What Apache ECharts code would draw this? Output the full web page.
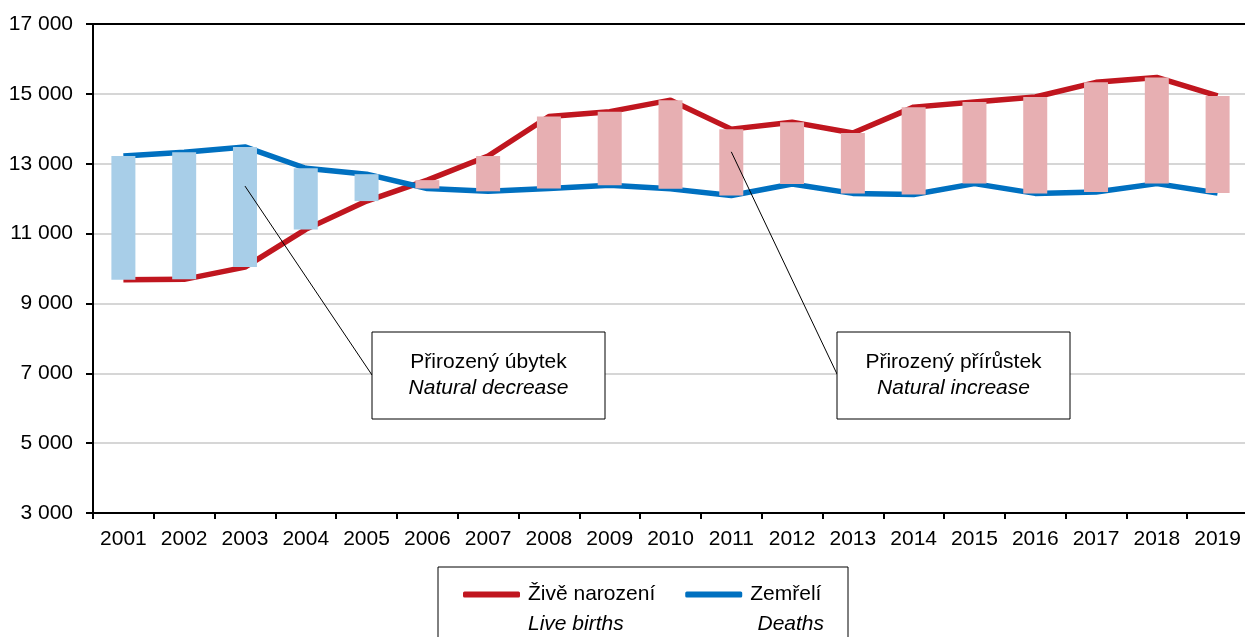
<!DOCTYPE html>
<html>
<head>
<meta charset="utf-8">
<script src="https://cdn.jsdelivr.net/npm/echarts@6/dist/echarts.min.js"></script>
<style>
  html, body { margin: 0; padding: 0; background: #fff; }
  #chart { width: 1245px; height: 637px; }
</style>
</head>
<body>
<div id="chart"></div>
<script>
  // roky
  const years = ['2001', '2002', '2003', '2004', '2005', '2006', '2007', '2008', '2009', '2010',
    '2011', '2012', '2013', '2014', '2015', '2016', '2017', '2018', '2019'];
  // živě narození / live births
  const births = [9680, 9690, 10040, 11120, 11930, 12530, 13220, 14350, 14490, 14820,
    13990, 14190, 13880, 14620, 14770, 14910, 15330, 15470, 14940];
  // zemřelí / deaths
  const deaths = [13220, 13330, 13480, 12870, 12700, 12290, 12210, 12290, 12380, 12280,
    12090, 12420, 12150, 12120, 12430, 12150, 12190, 12430, 12160];
  const yTicks = [3000, 5000, 7000, 9000, 11000, 13000, 15000, 17000];

  const FONT = 'Liberation Sans, Arial, sans-serif';
  const FS = 21;

  // spodní (neviditelná) část sloupce a rozdíl
  const gapBase = births.map((b, i) => Math.min(b, deaths[i]));
  const gapDiff = births.map((b, i) => ({
    value: Math.abs(b - deaths[i]),
    itemStyle: { color: deaths[i] > b ? '#A8CEE8' : '#E7AFB2' }
  }));

  const fmt = v => String(v).replace(/\B(?=(\d{3})+(?!\d))/g, ' ');

  const chart = echarts.init(document.getElementById('chart'));
  chart.setOption({
    animation: false,
    textStyle: { fontFamily: FONT },
    grid: {
      left: 93,
      top: 24,
      width: 1155,
      height: 489,
      containLabel: false,
      outerBoundsMode: 'none'
    },
    legend: {
      data: ['Živě narození', 'Zemřelí'],
      left: 463,
      top: 584,
      padding: 0,
      icon: 'roundRect',
      itemWidth: 57,
      itemHeight: 6,
      itemGap: 30,
      textStyle: { fontSize: FS, color: '#000', fontFamily: FONT, padding: [0, 0, 0, 3] }
    },
    xAxis: [{
      type: 'category',
      data: years,
      boundaryGap: true,
      axisLine: { lineStyle: { color: '#000', width: 2 } },
      axisTick: { show: true, length: 6, lineStyle: { color: '#000', width: 2 } },
      axisLabel: { color: '#000', fontSize: FS, margin: 16, interval: 0 },
      splitLine: { show: false }
    }, {
      type: 'category',
      data: years,
      position: 'top',
      axisLine: { lineStyle: { color: '#000', width: 2 } },
      axisTick: { show: false },
      axisLabel: { show: false }
    }],
    yAxis: {
      type: 'value',
      min: yTicks[0],
      max: yTicks[yTicks.length - 1],
      interval: 2000,
      axisLine: { show: true, lineStyle: { color: '#000', width: 2 } },
      axisTick: { show: true, length: 7, lineStyle: { color: '#000', width: 2 } },
      axisLabel: { color: '#000', fontSize: FS, margin: 20, formatter: fmt },
      splitLine: { lineStyle: { color: '#C8C8C8', width: 1.5 } }
    },
    series: [{
      name: 'Živě narození',
      type: 'line',
      data: births,
      symbol: 'none',
      z: 2,
      color: '#C0161F',
      lineStyle: { width: 5.5, color: '#C0161F' }
    }, {
      name: 'Zemřelí',
      type: 'line',
      data: deaths,
      symbol: 'none',
      z: 2,
      color: '#0070C0',
      lineStyle: { width: 5.5, color: '#0070C0' }
    }, {
      name: 'base',
      type: 'bar',
      stack: 'gap',
      data: gapBase,
      barWidth: 24,
      z: 3,
      itemStyle: { color: 'transparent' },
      silent: true
    }, {
      name: 'gap',
      type: 'bar',
      stack: 'gap',
      data: gapDiff,
      barWidth: 24,
      z: 3
    }]
  });

  // popisky s odkazovou čarou
  const p1 = chart.convertToPixel({ xAxisIndex: 0, yAxisIndex: 0 }, ['2003', 12360]);
  const p2 = chart.convertToPixel({ xAxisIndex: 0, yAxisIndex: 0 }, ['2011', 13340]);

  function noteBox(x, y, l1, l2) {
    return [{
      type: 'rect',
      shape: { x: x, y: y, width: 233, height: 87 },
      style: { fill: '#fff', stroke: '#000', lineWidth: 1 },
      z: 10
    }, {
      type: 'text',
      x: x + 116.5, y: y + 30,
      style: { text: l1, font: FS + 'px ' + FONT, fill: '#000', align: 'center', verticalAlign: 'middle' },
      z: 11
    }, {
      type: 'text',
      x: x + 116.5, y: y + 56,
      style: { text: l2, font: 'italic ' + FS + 'px ' + FONT, fill: '#000', align: 'center', verticalAlign: 'middle' },
      z: 11
    }];
  }

  chart.setOption({
    graphic: [
      {
        type: 'line',
        shape: { x1: p1[0], y1: p1[1], x2: 372, y2: 375 },
        style: { stroke: '#000', lineWidth: 1 },
        z: 10
      },
      {
        type: 'line',
        shape: { x1: p2[0], y1: p2[1], x2: 837, y2: 374 },
        style: { stroke: '#000', lineWidth: 1 },
        z: 10
      },
      ...noteBox(372, 332, 'Přirozený úbytek', 'Natural decrease'),
      ...noteBox(837, 332, 'Přirozený přírůstek', 'Natural increase'),
      {
        type: 'rect',
        shape: { x: 438, y: 567, width: 410, height: 90 },
        style: { fill: 'none', stroke: '#000', lineWidth: 1 },
        z: 1
      },
      {
        type: 'text',
        x: 528, y: 624,
        style: { text: 'Live births', font: 'italic ' + FS + 'px ' + FONT, fill: '#000', align: 'left', verticalAlign: 'middle' }
      },
      {
        type: 'text',
        x: 824, y: 624,
        style: { text: 'Deaths', font: 'italic ' + FS + 'px ' + FONT, fill: '#000', align: 'right', verticalAlign: 'middle' }
      }
    ]
  });
</script>
</body>
</html>
